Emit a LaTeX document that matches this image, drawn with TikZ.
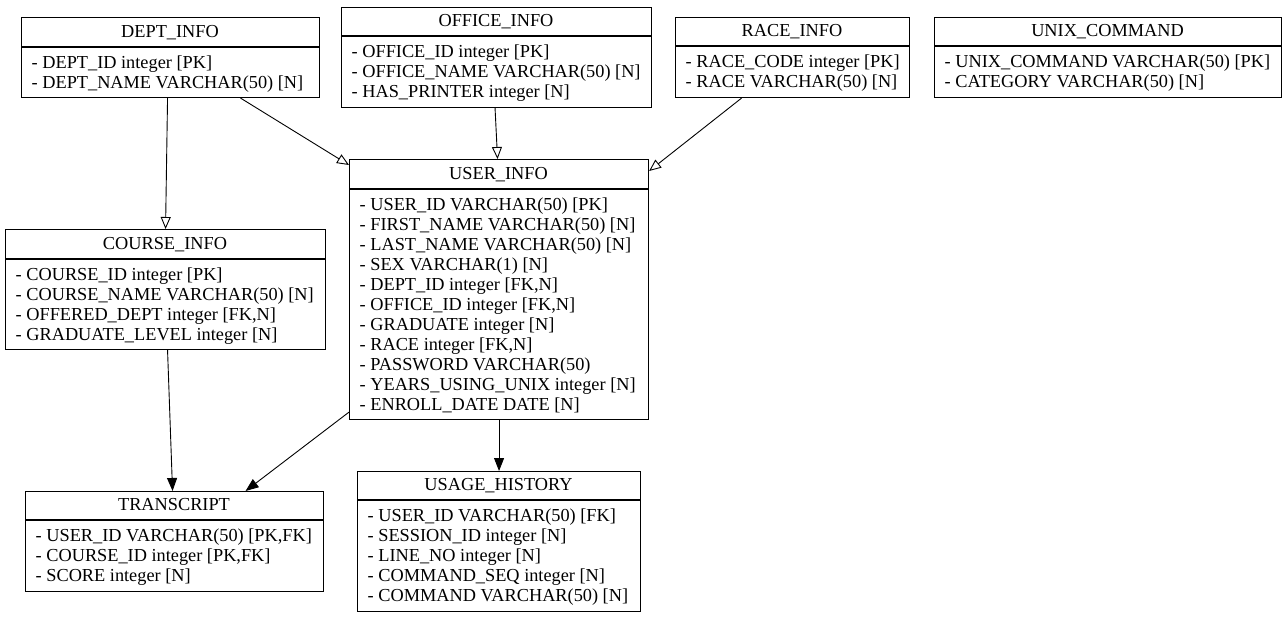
\documentclass[tikz,border=0pt]{standalone}
\usepackage{fontspec}
\setmainfont{Liberation Serif}
\usetikzlibrary{arrows.meta}
\tikzset{
  tbl/.style={draw, line width=1.1pt, rectangle, inner sep=0pt},
  ttl/.style={anchor=base, inner sep=0pt, font=\fontsize{18.3}{20}\selectfont},
  bdy/.style={anchor=north west, inner sep=0pt, align=left, font=\fontsize{18.3}{20}\selectfont},
  fk/.style={line width=0.9pt, -{Triangle[open, length=12pt, width=10pt]}},
  rel/.style={line width=0.9pt, -{Triangle[length=13pt, width=10pt]}},
}
% name, left, top, right, bottom, divider, title, body
\newcommand\erbox[8]{%
  \node[tbl, minimum width={(#4-#2)*1pt}, minimum height={(#5-#3)*1pt}, anchor=north west] (#1) at (#2,-#3) {};
  \draw[line width=1.1pt] (#1.west |- 0,-#6) -- (#1.east |- 0,-#6);
  \node[ttl] (#1-t) at ({(#2+#4)/2},{-#6+10}) {#7};
  \node[bdy] (#1-b) at ({#2+10.5},{-#6-7}) {#8};
}
\begin{document}
\begin{tikzpicture}[x=1pt,y=1pt]
\useasboundingbox (0,0) rectangle (1287,-619);
\erbox{dept}{21}{17}{319}{97}{47}{DEPT\_INFO}{\strut- DEPT\_ID integer [PK]\\\strut- DEPT\_NAME VARCHAR(50) [N]}
\erbox{office}{341}{7}{651}{107}{36}{OFFICE\_INFO}{\strut- OFFICE\_ID integer [PK]\\\strut- OFFICE\_NAME VARCHAR(50) [N]\\\strut- HAS\_PRINTER integer [N]}
\erbox{race}{675}{17}{909}{97}{46}{RACE\_INFO}{\strut- RACE\_CODE integer [PK]\\\strut- RACE VARCHAR(50) [N]}
\erbox{unix}{934}{17}{1281}{97}{46}{UNIX\_COMMAND}{\strut- UNIX\_COMMAND VARCHAR(50) [PK]\\\strut- CATEGORY VARCHAR(50) [N]}
\erbox{user}{349}{159}{648}{419}{189}{USER\_INFO}{\strut- USER\_ID VARCHAR(50) [PK]\\\strut- FIRST\_NAME VARCHAR(50) [N]\\\strut- LAST\_NAME VARCHAR(50) [N]\\\strut- SEX VARCHAR(1) [N]\\\strut- DEPT\_ID integer [FK,N]\\\strut- OFFICE\_ID integer [FK,N]\\\strut- GRADUATE integer [N]\\\strut- RACE integer [FK,N]\\\strut- PASSWORD VARCHAR(50)\\\strut- YEARS\_USING\_UNIX integer [N]\\\strut- ENROLL\_DATE DATE [N]}
\erbox{course}{5}{229}{325}{349}{259}{COURSE\_INFO}{\strut- COURSE\_ID integer [PK]\\\strut- COURSE\_NAME VARCHAR(50) [N]\\\strut- OFFERED\_DEPT integer [FK,N]\\\strut- GRADUATE\_LEVEL integer [N]}
\erbox{trans}{25}{491}{323}{591}{520}{TRANSCRIPT}{\strut- USER\_ID VARCHAR(50) [PK,FK]\\\strut- COURSE\_ID integer [PK,FK]\\\strut- SCORE integer [N]}
\erbox{usage}{357}{471}{640}{611}{500}{USAGE\_HISTORY}{\strut- USER\_ID VARCHAR(50) [FK]\\\strut- SESSION\_ID integer [N]\\\strut- LINE\_NO integer [N]\\\strut- COMMAND\_SEQ integer [N]\\\strut- COMMAND VARCHAR(50) [N]}
% connectors
\draw[fk] ([xshift=-3pt]dept.south) -- (course.north);
\draw[fk] ([xshift=70pt]dept.south) -- ([yshift=-6pt]user.north west);
\draw[fk] ([xshift=-1.5pt]office.south) -- ([xshift=-1.5pt]user.north);
\draw[fk] ([xshift=-51pt]race.south) -- ([yshift=-12pt]user.north east);
\draw[rel] ([xshift=2pt]course.south) -- ([xshift=-2pt]trans.north);
\draw[rel] ([yshift=8pt]user.south west) -- ([xshift=71pt]trans.north);
\draw[rel] (user.south) -- (user.south |- usage.north);
\end{tikzpicture}
\end{document}
